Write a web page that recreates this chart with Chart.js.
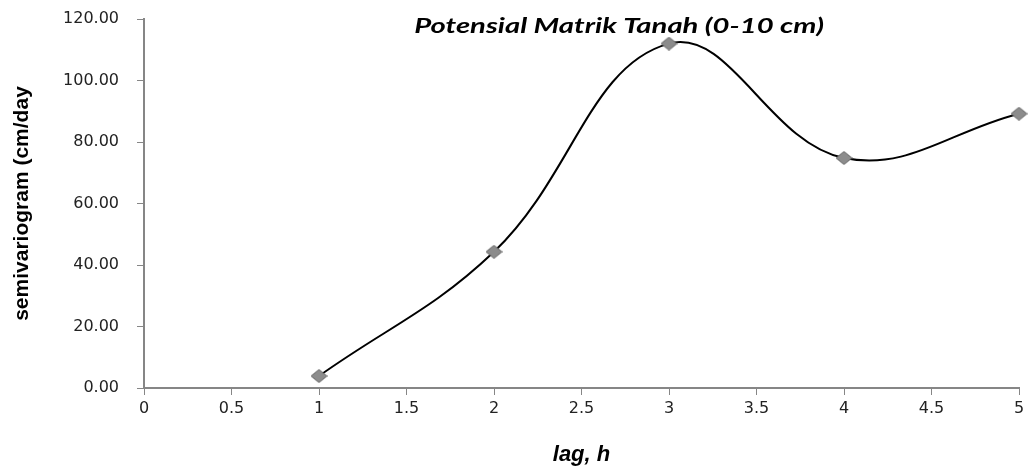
<!DOCTYPE html>
<html>
<head>
<meta charset="utf-8">
<script src="https://cdn.jsdelivr.net/npm/chart.js@4/dist/chart.umd.min.js"></script>
<style>
  html, body { margin: 0; padding: 0; background: #fff; }
  #wrap { width: 1029px; height: 472px; }
</style>
</head>
<body>
<div id="wrap"><canvas id="myChart"></canvas></div>
<script>
const lagValues = [1, 2, 3, 4, 5];
const semivariogram = [3.9, 44.3, 112.0, 74.8, 89.2];
const xTicks = [0, 0.5, 1, 1.5, 2, 2.5, 3, 3.5, 4, 4.5, 5];
const yTicks = [0, 20, 40, 60, 80, 100, 120];
const chartTitle = "Potensial Matrik Tanah (0-10 cm)";

const points = lagValues.map((x, i) => ({ x: x, y: semivariogram[i] }));

// the markers in the original are a bit wider than tall
function makeDiamond(w, h) {
  const c = document.createElement("canvas");
  c.width = w;
  c.height = h;
  const g = c.getContext("2d");
  g.beginPath();
  g.moveTo(w / 2, 0.5);
  g.lineTo(w - 0.5, h / 2);
  g.lineTo(w / 2, h - 0.5);
  g.lineTo(0.5, h / 2);
  g.closePath();
  g.fillStyle = "#8c8c8c";
  g.fill();
  g.strokeStyle = "#666";
  g.lineWidth = 1;
  g.stroke();
  return c;
}
const diamond = makeDiamond(17, 14);

// title sits inside the plot area, like the original (text is stretched wide there)
const insideTitle = {
  id: "insideTitle",
  afterDatasetsDraw(chart) {
    const { ctx, chartArea } = chart;
    ctx.save();
    ctx.font = "italic bold 21px Lato";
    const w = ctx.measureText(chartTitle).width;
    ctx.translate(chartArea.left + chartArea.width * 0.543, 33);
    ctx.scale(410 / w, 1);
    ctx.fillStyle = "#000";
    ctx.textAlign = "center";
    ctx.textBaseline = "alphabetic";
    ctx.fillText(chartTitle, 0, 0);
    ctx.restore();
  }
};

const axisGrey = "#868686";
const tickFont = { family: "DejaVu Sans", size: 16 };

new Chart(document.getElementById("myChart"), {
  type: "scatter",
  data: {
    datasets: [{
      data: points,
      showLine: true,
      tension: 0.4,
      clip: false,
      borderColor: "#000",
      borderWidth: 2,
      pointStyle: diamond,
      pointRadius: 8
    }]
  },
  options: {
    responsive: true,
    maintainAspectRatio: false,
    animation: false,
    layout: { padding: { top: 19, right: 9, left: 0, bottom: 0 } },
    plugins: {
      legend: { display: false },
      tooltip: { enabled: false }
    },
    scales: {
      x: {
        type: "linear",
        min: 0,
        max: 5,
        afterBuildTicks: (scale) => { scale.ticks = xTicks.map(v => ({ value: v })); },
        ticks: {
          color: "#222",
          font: tickFont,
          padding: 4,
          maxRotation: 0,
          callback: (v) => String(v)
        },
        grid: { drawOnChartArea: false, drawTicks: true, tickLength: 7, color: axisGrey },
        border: { color: axisGrey, width: 2 },
        title: {
          display: true,
          text: "lag, h",
          color: "#000",
          font: { family: "Liberation Sans", size: 22, style: "italic", weight: "bold" },
          padding: { top: 12 }
        },
        afterFit: (scale) => { scale.height = 84; scale.paddingLeft = 0; scale.paddingRight = 0; }
      },
      y: {
        min: 0,
        max: 120,
        afterBuildTicks: (scale) => { scale.ticks = yTicks.map(v => ({ value: v })); },
        ticks: {
          color: "#222",
          font: tickFont,
          padding: 18,
          callback: (v) => v.toFixed(2)
        },
        grid: { drawOnChartArea: false, drawTicks: true, tickLength: 7, color: axisGrey },
        border: { color: axisGrey, width: 2 },
        title: {
          display: true,
          text: "semivariogram (cm/day",
          color: "#000",
          font: { family: "Liberation Sans", size: 21, weight: "bold" },
          padding: { top: 10, bottom: 8 }
        },
        afterFit: (scale) => { scale.width = 144; scale.paddingTop = 0; scale.paddingBottom = 0; }
      }
    }
  },
  plugins: [insideTitle]
});
</script>
</body>
</html>
